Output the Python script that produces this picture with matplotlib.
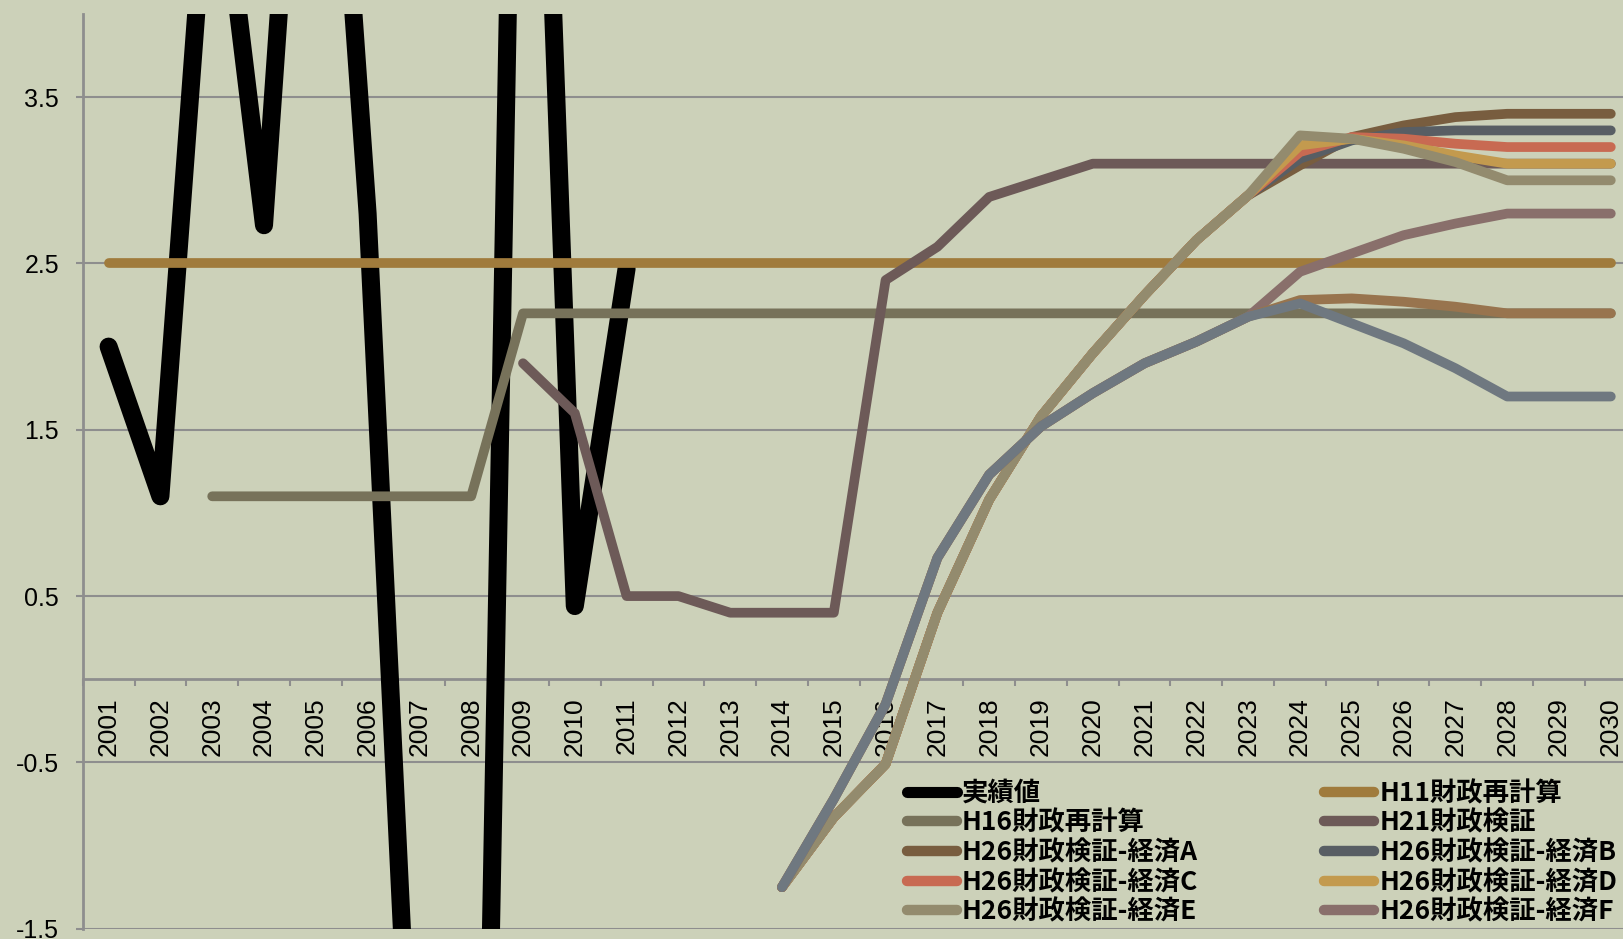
import numpy as np
import matplotlib
matplotlib.use("Agg")
import matplotlib.pyplot as plt
from matplotlib.font_manager import FontProperties

plt.rcParams['font.family'] = ['Liberation Sans', 'Noto Sans CJK JP', 'DejaVu Sans']

nan = np.nan

years = list(range(2001, 2031))

# 実績値 (only up to 2011)
jisseki = [2.0, 1.1, 5.3, 2.73, 7.2, 2.8, -3.7, -8.0, 9.0, 0.44, 2.47,
           nan, nan, nan, nan, nan, nan, nan, nan, nan,
           nan, nan, nan, nan, nan, nan, nan, nan, nan, nan]

h11 = [2.5, 2.5, 2.5, 2.5, 2.5, 2.5, 2.5, 2.5, 2.5, 2.5,
       2.5, 2.5, 2.5, 2.5, 2.5, 2.5, 2.5, 2.5, 2.5, 2.5,
       2.5, 2.5, 2.5, 2.5, 2.5, 2.5, 2.5, 2.5, 2.5, 2.5]

h16 = [nan, nan, 1.1, 1.1, 1.1, 1.1, 1.1, 1.1, 2.2, 2.2,
       2.2, 2.2, 2.2, 2.2, 2.2, 2.2, 2.2, 2.2, 2.2, 2.2,
       2.2, 2.2, 2.2, 2.2, 2.2, 2.2, 2.2, 2.2, 2.2, 2.2]

h21 = [nan, nan, nan, nan, nan, nan, nan, nan, 1.9, 1.6,
       0.5, 0.5, 0.4, 0.4, 0.4, 2.4, 2.6, 2.9, 3.0, 3.1,
       3.1, 3.1, 3.1, 3.1, 3.1, 3.1, 3.1, 3.1, 3.1, 3.1]

# H26 scenarios, 2014-2030
h26_a = [-1.25, -0.83, -0.51, 0.40, 1.08, 1.58, 1.96, 2.31, 2.64, 2.91,
         3.09, 3.26, 3.33, 3.38, 3.40, 3.40, 3.40]
h26_b = [-1.25, -0.83, -0.51, 0.40, 1.08, 1.58, 1.96, 2.31, 2.64, 2.91,
         3.13, 3.24, 3.29, 3.30, 3.30, 3.30, 3.30]
h26_c = [-1.25, -0.83, -0.51, 0.40, 1.08, 1.58, 1.96, 2.31, 2.64, 2.91,
         3.17, 3.26, 3.25, 3.22, 3.20, 3.20, 3.20]
h26_d = [-1.25, -0.83, -0.51, 0.40, 1.08, 1.58, 1.96, 2.31, 2.64, 2.91,
         3.21, 3.25, 3.21, 3.15, 3.10, 3.10, 3.10]
h26_e = [-1.25, -0.83, -0.51, 0.40, 1.08, 1.58, 1.96, 2.31, 2.64, 2.91,
         3.27, 3.25, 3.19, 3.11, 3.00, 3.00, 3.00]
h26_f = [-1.25, -0.72, -0.15, 0.73, 1.23, 1.52, 1.72, 1.90, 2.03, 2.18,
         2.45, 2.56, 2.67, 2.74, 2.80, 2.80, 2.80]
h26_g = [-1.25, -0.72, -0.15, 0.73, 1.23, 1.52, 1.72, 1.90, 2.03, 2.18,
         2.28, 2.29, 2.27, 2.24, 2.20, 2.20, 2.20]
h26_h = [-1.25, -0.72, -0.15, 0.73, 1.23, 1.52, 1.72, 1.90, 2.03, 2.18,
         2.26, 2.14, 2.02, 1.87, 1.70, 1.70, 1.70]
h26_start = 2014

bg = '#ccd1b9'
grid_c = '#8e8e8e'

fig = plt.figure(figsize=(16.23, 9.39), dpi=100)
fig.patch.set_facecolor(bg)
ax = fig.add_axes([82.7 / 1623, 10.3 / 939, 1554 / 1623, 914.7 / 939])
ax.set_facecolor(bg)

x = np.arange(len(years))
x26 = x[years.index(h26_start):]

series = [
    ('実績値', x, jisseki, '#000000', 13),
    ('H11財政再計算', x, h11, '#a07b3c', 7),
    ('H16財政再計算', x, h16, '#77725a', 7),
    ('H21財政検証', x, h21, '#6d5a58', 7),
    ('H26財政検証-経済A', x26, h26_a, '#785d3f', 7),
    ('H26財政検証-経済B', x26, h26_b, '#585e64', 7),
    ('H26財政検証-経済C', x26, h26_c, '#c86a52', 7),
    ('H26財政検証-経済D', x26, h26_d, '#c39a4e', 7),
    ('H26財政検証-経済E', x26, h26_e, '#938b6e', 7),
    ('H26財政検証-経済F', x26, h26_f, '#896f6b', 7),
    ('H26財政検証-経済G', x26, h26_g, '#98744e', 7),
    ('H26財政検証-経済H', x26, h26_h, '#6f7880', 7),
]

lines = {}
for name, xs, ys, color, lw in series:
    ln, = ax.plot(xs, ys, color=color, lw=lw, solid_capstyle='round',
                  solid_joinstyle='round', label=name, zorder=3)
    lines[name] = ln

ax.set_xlim(-0.5, len(years) - 0.5)
ax.set_ylim(-1.5, 4.0)

# y axis
yt = [-1.5, -0.5, 0.5, 1.5, 2.5, 3.5]
ax.set_yticks(yt)
ax.set_yticklabels([f'{v:.1f}' for v in yt], fontsize=18)
ax.tick_params(axis='y', length=5, width=1.5, color=grid_c, pad=12)
ax.grid(axis='y', color=grid_c, lw=1.5)
ax.set_axisbelow(True)

# category axis sits on y = 0
ax.spines['bottom'].set_position(('data', 0))
ax.spines['bottom'].set_color(grid_c)
ax.spines['bottom'].set_linewidth(2)
ax.spines['left'].set_color(grid_c)
ax.spines['left'].set_linewidth(2)
ax.spines['top'].set_visible(False)
ax.spines['right'].set_visible(False)

ax.set_xticks(x)
ax.set_xticklabels([str(y) for y in years], rotation=90, fontsize=19)
ax.set_xticks(np.arange(-0.5, len(years), 1.0), minor=True)
ax.tick_params(axis='x', which='major', length=0, pad=13)
ax.tick_params(axis='x', which='minor', length=5, width=1.5, color=grid_c)
for lab in ax.get_xticklabels():
    lab.set_va('top')

# legend in two columns, G and H are left out
leg_font = FontProperties(family=['Noto Sans CJK JP', 'DejaVu Sans'],
                          weight='bold', size=19)
col1 = ['実績値', 'H16財政再計算', 'H26財政検証-経済A',
        'H26財政検証-経済C', 'H26財政検証-経済E']
col2 = ['H11財政再計算', 'H21財政検証', 'H26財政検証-経済B',
        'H26財政検証-経済D', 'H26財政検証-経済F']

legends = []
for names, lx in [(col1, 906.7), (col2, 1324.3)]:
    leg = ax.legend(handles=[lines[n] for n in names], labels=names,
                    loc='upper left',
                    bbox_to_anchor=(lx / 1623, 1 - 780 / 939),
                    bbox_transform=fig.transFigure, frameon=False,
                    prop=leg_font, handlelength=1.9, handletextpad=0.2,
                    labelspacing=0.10, borderpad=0, borderaxespad=0)
    for h in leg.legend_handles:
        h.set_linewidth(8 if h.get_color() == '#000000' else 7.5)
    legends.append(leg)
ax.add_artist(legends[0])

fig.savefig('out.png', dpi=100, facecolor=bg)
